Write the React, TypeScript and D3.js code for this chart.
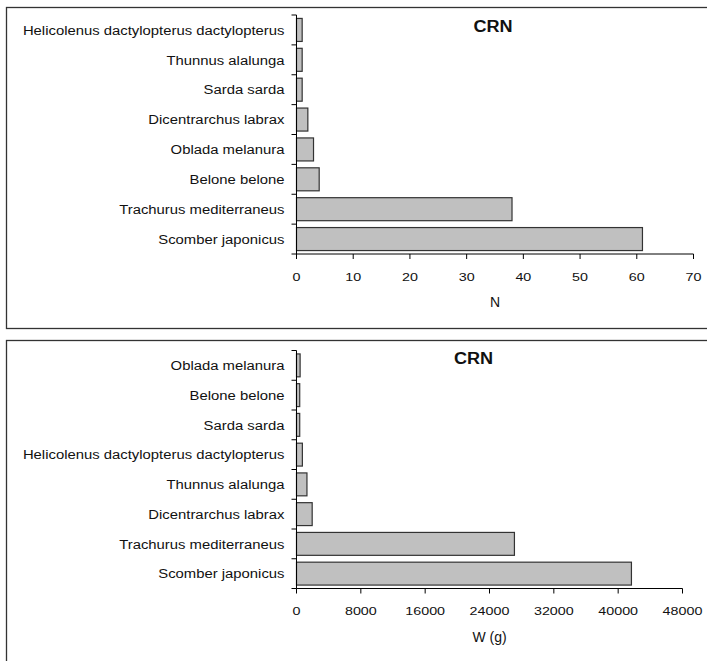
import * as d3 from "d3";
import {useEffect, useRef} from "react";

// top panel: number of individuals
const speciesN = [
    "Helicolenus dactylopterus dactylopterus",
    "Thunnus alalunga",
    "Sarda sarda",
    "Dicentrarchus labrax",
    "Oblada melanura",
    "Belone belone",
    "Trachurus mediterraneus",
    "Scomber japonicus",
];
const valuesN = [1, 1, 1, 2, 3, 4, 38, 61];
const ticksN = [0, 10, 20, 30, 40, 50, 60, 70];

// bottom panel: weight in grams
const speciesW = [
    "Oblada melanura",
    "Belone belone",
    "Sarda sarda",
    "Helicolenus dactylopterus dactylopterus",
    "Thunnus alalunga",
    "Dicentrarchus labrax",
    "Trachurus mediterraneus",
    "Scomber japonicus",
];
const valuesW = [450, 400, 400, 730, 1300, 1950, 27100, 41650];
const ticksW = [0, 8000, 16000, 24000, 32000, 40000, 48000];

const FONT = "'Liberation Sans', Arial, Helvetica, sans-serif";

type Panel = {
    box: [number, number, number, number];
    cats: string[];
    vals: number[];
    ticks: number[];
    xRange: [number, number];
    yRange: [number, number];
    title: string;
    titlePos: [number, number];
    axisTitle: string;
    axisTitleY: number;
};

const App = () => {
    const svgRef = useRef<SVGSVGElement>(null);

    useEffect(() => {
        if (!svgRef.current) return;
        const svg = d3.select(svgRef.current);
        svg.selectAll("*").remove();

        const panels: Panel[] = [
            {
                box: [6.5, 7.5, 720, 321],
                cats: speciesN, vals: valuesN, ticks: ticksN,
                xRange: [296.5, 693.5], yRange: [15, 254],
                title: "CRN", titlePos: [493, 26],
                axisTitle: "N", axisTitleY: 302,
            },
            {
                box: [6.5, 340.5, 720, 400],
                cats: speciesW, vals: valuesW, ticks: ticksW,
                xRange: [296.5, 682.5], yRange: [350.5, 588.5],
                title: "CRN", titlePos: [473.5, 358],
                axisTitle: "W (g)", axisTitleY: 637,
            },
        ];

        // text helper: horizontally stretched text centred vertically on y
        const label = (g: any, txt: string, x: number, y: number, size: number,
                       sx: number, anchor: string, weight = "normal") => {
            g.append("text")
                .attr("transform", `translate(${x},${y}) scale(${sx},1)`)
                .attr("dy", "0.35em")
                .attr("text-anchor", anchor)
                .attr("font-family", FONT)
                .attr("font-size", size)
                .attr("font-weight", weight)
                .attr("fill", "#111")
                .text(txt);
        };

        panels.forEach(p => {
            const g = svg.append("g");

            // frame
            g.append("rect")
                .attr("x", p.box[0]).attr("y", p.box[1])
                .attr("width", p.box[2]).attr("height", p.box[3])
                .attr("fill", "white")
                .attr("stroke", "#333")
                .attr("stroke-width", 1.3);

            const x = d3.scaleLinear()
                .domain([p.ticks[0], p.ticks[p.ticks.length - 1]])
                .range(p.xRange);
            const y = d3.scaleBand<string>()
                .domain(p.cats)
                .range(p.yRange)
                .paddingInner(0.23)
                .paddingOuter(0.115);

            // bars
            g.selectAll(".bar")
                .data(p.vals)
                .enter()
                .append("rect")
                .attr("x", x(0))
                .attr("y", (_d, i) => y(p.cats[i])!)
                .attr("width", d => x(d) - x(0))
                .attr("height", y.bandwidth())
                .attr("fill", "#c0c0c0")
                .attr("stroke", "#333")
                .attr("stroke-width", 1.2);

            // y axis with ticks at category boundaries
            const [y0, y1] = p.yRange;
            g.append("line")
                .attr("x1", x(0)).attr("x2", x(0))
                .attr("y1", y0).attr("y2", y1)
                .attr("stroke", "#000");
            d3.range(p.cats.length + 1).forEach(i => {
                const yy = y0 + i * y.step();
                g.append("line")
                    .attr("x1", x(0) - 5).attr("x2", x(0))
                    .attr("y1", yy).attr("y2", yy)
                    .attr("stroke", "#000");
            });
            p.cats.forEach(c => {
                label(g, c, x(0) - 12, y(c)! + y.bandwidth() / 2, 13.5, 1.1, "end");
            });

            // x axis
            g.append("line")
                .attr("x1", p.xRange[0]).attr("x2", p.xRange[1])
                .attr("y1", y1).attr("y2", y1)
                .attr("stroke", "#000");
            p.ticks.forEach(t => {
                g.append("line")
                    .attr("x1", x(t)).attr("x2", x(t))
                    .attr("y1", y1).attr("y2", y1 + 5)
                    .attr("stroke", "#000");
                label(g, String(t), x(t), y1 + 23, 11, 1.3, "middle");
            });

            label(g, p.axisTitle, (p.xRange[0] + p.xRange[1]) / 2, p.axisTitleY, 14, 1, "middle");
            label(g, p.title, p.titlePos[0], p.titlePos[1], 16, 1.13, "middle", "bold");
        });
    }, []);

    return <svg ref={svgRef} width={707} height={661}
                style={{position: "absolute", left: 0, top: 0, background: "white"}}/>;
};

export default App;
